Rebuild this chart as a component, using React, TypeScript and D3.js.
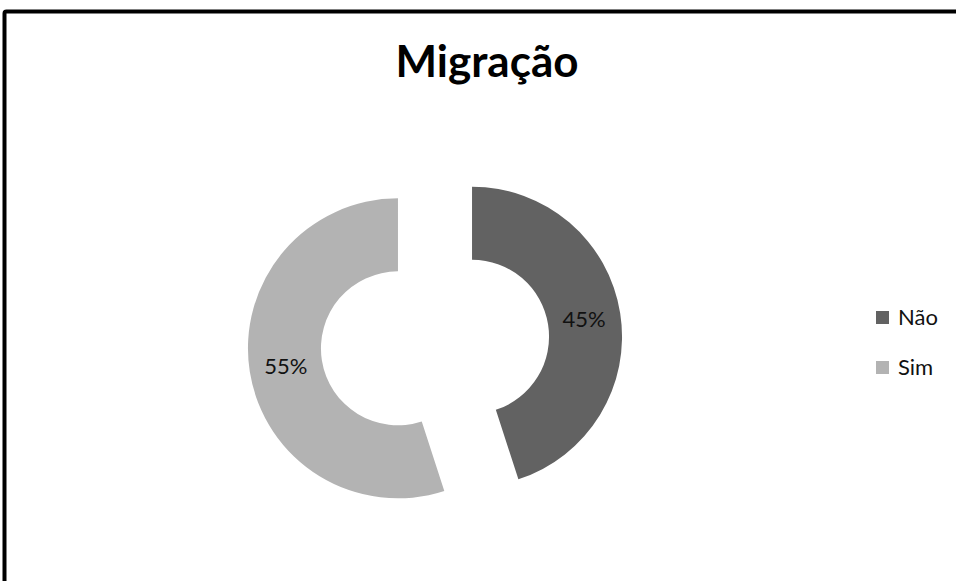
import { useRef, useEffect } from 'react';
import * as d3 from 'd3';

const title = "Migração";
const categories = ["Não", "Sim"];
const values = [45, 55];
const colors = ["#626262", "#b3b3b3"];

function App() {
  const svgRef = useRef<SVGSVGElement>(null);

  useEffect(() => {
    document.body.style.overflow = "hidden";
    const svg = d3.select(svgRef.current);
    svg.selectAll("*").remove();

    const width = 956;
    const height = 581;
    const font = "Lato, 'Open Sans', sans-serif";

    svg.attr("width", width).attr("height", height);

    svg.append("rect")
      .attr("width", width).attr("height", height)
      .attr("fill", "#fff");

    // Chart frame: only top and left edges are inside the picture
    svg.append("path")
      .attr("d", `M4.5,${height} L4.5,13.5 Q4.5,11.5 6.5,11.5 L${width},11.5`)
      .attr("fill", "none")
      .attr("stroke", "#000")
      .attr("stroke-width", 4);

    svg.append("text")
      .attr("x", 487).attr("y", 77)
      .attr("text-anchor", "middle")
      .style("font-family", font)
      .style("font-weight", "bold")
      .style("font-size", "44px")
      .text(title);

    const cx = 435, cy = 342.5;
    const outerR = 150, innerR = 77, explode = 37.5;

    const pie = d3.pie<number>().sort(null).value(d => d);
    const arcs = pie(values);
    const arc = d3.arc<d3.PieArcDatum<number>>().innerRadius(innerR).outerRadius(outerR);

    const g = svg.append("g").attr("transform", `translate(${cx},${cy})`);

    const slice = g.selectAll("g.slice")
      .data(arcs)
      .enter()
      .append("g")
      .attr("class", "slice")
      .attr("transform", d => {
        const mid = (d.startAngle + d.endAngle) / 2;
        return `translate(${Math.sin(mid) * explode},${-Math.cos(mid) * explode})`;
      });

    slice.append("path")
      .attr("d", arc)
      .attr("fill", (d, i) => colors[i]);

    const total = d3.sum(values);
    slice.append("text")
      .attr("transform", d => `translate(${arc.centroid(d)})`)
      .attr("text-anchor", "middle")
      .attr("dy", "0.35em")
      .style("font-family", font)
      .style("font-size", "22px")
      .style("fill", "#111")
      .text(d => `${Math.round(d.value / total * 100)}%`);

    // Legend
    const legend = svg.append("g").attr("transform", "translate(876,310)");
    const item = legend.selectAll("g")
      .data(categories)
      .enter()
      .append("g")
      .attr("transform", (d, i) => `translate(0,${i * 50})`);

    item.append("rect")
      .attr("width", 13).attr("height", 13)
      .attr("y", 1)
      .attr("fill", (d, i) => colors[i]);

    item.append("text")
      .attr("x", 22).attr("y", 15)
      .style("font-family", font)
      .style("font-size", "22px")
      .style("fill", "#111")
      .text(d => d);
  }, []);

  return <svg ref={svgRef} style={{ position: "absolute", left: 0, top: 0, display: "block" }}></svg>;
}

export default App;
